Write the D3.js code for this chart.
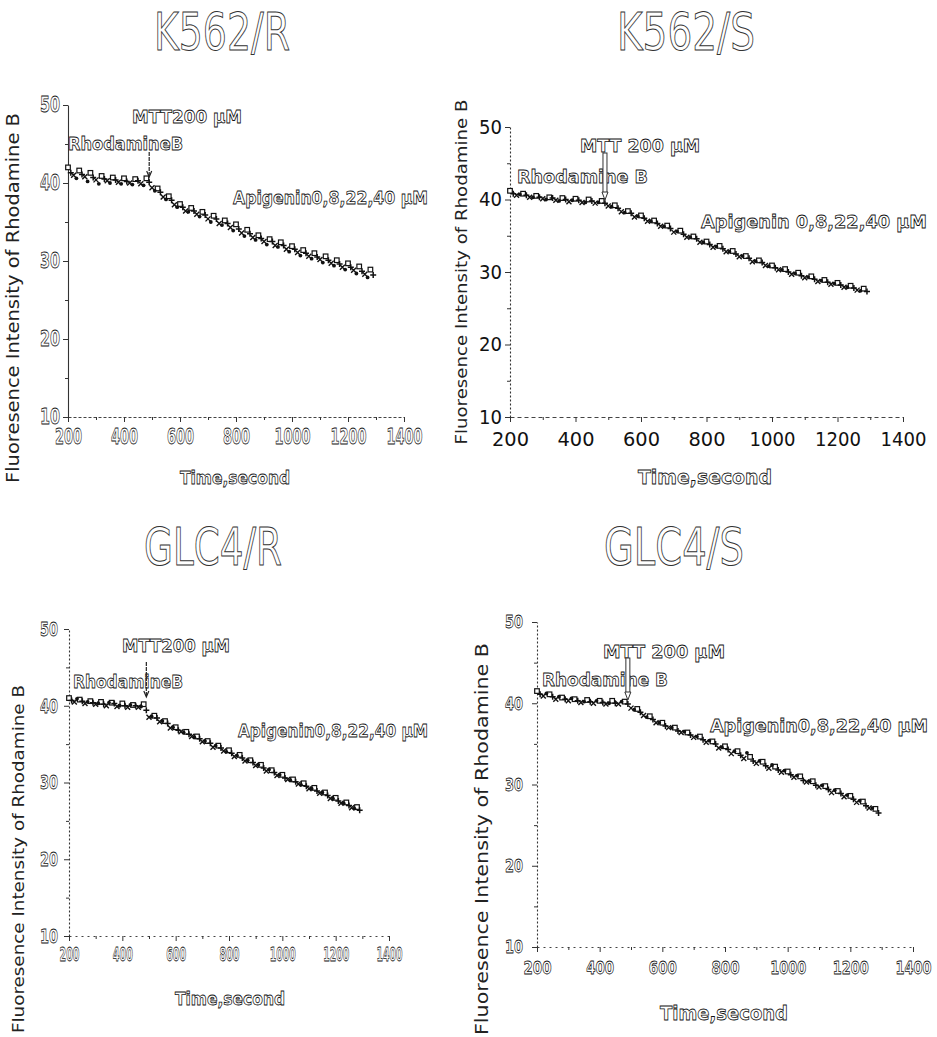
<!DOCTYPE html>
<html><head><meta charset="utf-8">
<script src="https://cdn.jsdelivr.net/npm/d3@7"></script>
<style>body{margin:0;background:#fff}svg{display:block}</style>
</head><body>
<svg id="c" width="937" height="1037"></svg>
<script>
// ---------- data ----------
const timesA = [200,240,280,320,360,400,440,480,520,560,600,640,680,720,760,800,840,880,920,960,1000,1040,1080,1120,1160,1200,1240,1280];
const timesB = [210,250,290,330,370,410,450,490,530,570,610,650,690,730,770,810,850,890,930,970,1010,1050,1090,1130,1170,1210,1250,1290];
const timesC = [220,260,300,340,380,420,460,500,540,580,620,660,700,740,780,820,860,900,940,980,1020,1060,1100,1140,1180,1220,1260];
const timesD = [230,270,310,350,390,430,470,510,550,590,630,670,710,750,790,830,870,910,950,990,1030,1070,1110,1150,1190,1230,1270];

const apigeninDoses = ["0 µM","8 µM","22 µM","40 µM"];
const xTicks = [200,400,600,800,1000,1200,1400];
const yTicks = [10,20,30,40,50];
const yMinorTicks = [15,25,35,45];
const xMinorTicks = [300,500,700,900,1100,1300];
const panelTitles = ["K562/R","K562/S","GLC4/R","GLC4/S"];
const mttTime = 490;

// K562/R
const k562R_0  = [42.0,41.6,41.3,40.9,40.7,40.6,40.5,40.6,39.3,38.3,37.3,36.8,36.3,35.8,35.2,34.7,34.0,33.3,32.8,32.4,31.9,31.4,31.0,30.6,30.1,29.7,29.3,28.9];
const k562R_8  = [41.3,41.1,40.7,40.5,40.4,40.2,40.3,40.1,38.8,37.8,36.9,36.4,35.9,35.4,34.8,34.1,33.5,32.9,32.5,32.0,31.5,31.0,30.5,30.1,29.6,29.2,28.7,28.2];
const k562R_22 = [41.0,40.8,40.4,40.3,40.1,40.0,39.9,39.4,38.2,37.2,36.4,36.0,35.4,34.8,34.3,33.6,33.0,32.5,32.0,31.5,31.1,30.6,30.2,29.7,29.2,28.8,28.3];
const k562R_40 = [40.6,40.2,39.9,40.0,39.9,39.8,39.7,39.0,37.9,36.9,36.3,35.7,35.0,34.6,33.9,33.2,32.7,32.1,31.8,31.2,30.7,30.3,29.8,29.4,28.9,28.4,27.9];
// K562/S
const k562S_0  = [41.2,40.8,40.5,40.3,40.2,40.1,40.0,39.8,39.2,38.4,37.8,37.1,36.4,35.7,34.9,34.2,33.6,32.9,32.2,31.6,30.9,30.4,29.9,29.4,28.9,28.5,28.1,27.7];
const k562S_8  = [40.8,40.6,40.3,40.2,40.0,39.9,39.8,39.5,38.8,38.1,37.4,36.7,36.0,35.2,34.6,33.8,33.2,32.5,31.9,31.3,30.6,30.0,29.5,29.0,28.6,28.2,27.8,27.3];
const k562S_22 = [40.6,40.3,40.1,39.9,39.7,39.6,39.5,39.1,38.3,37.6,37.0,36.3,35.5,34.8,34.1,33.4,32.8,32.1,31.4,30.9,30.3,29.7,29.2,28.7,28.3,27.9,27.5];
const k562S_40 = [40.7,40.3,40.0,39.8,39.9,39.6,39.6,39.0,38.2,37.7,37.0,36.3,35.6,34.8,34.1,33.5,32.8,32.2,31.5,30.8,30.3,29.8,29.3,28.8,28.4,27.9,27.4];
// GLC4/R
const glc4R_0  = [41.0,40.8,40.6,40.5,40.4,40.3,40.1,40.2,38.7,38.0,37.2,36.6,36.0,35.4,34.8,34.2,33.6,32.9,32.3,31.6,31.0,30.4,29.9,29.3,28.7,28.0,27.4,26.8];
const glc4R_8  = [40.7,40.6,40.4,40.2,40.3,40.0,40.0,39.4,38.4,37.7,36.8,36.3,35.7,35.1,34.5,33.8,33.2,32.6,31.9,31.3,30.6,30.1,29.5,28.9,28.3,27.6,27.0,26.4];
const glc4R_22 = [40.5,40.3,40.2,40.0,39.9,39.8,39.8,38.5,37.9,37.1,36.6,36.0,35.3,34.6,34.1,33.4,32.8,32.2,31.5,30.9,30.4,29.8,29.2,28.6,27.9,27.3,26.7];
const glc4R_40 = [40.9,40.5,40.3,40.4,40.0,40.1,39.9,38.6,38.0,37.2,36.5,35.9,35.4,34.8,34.0,33.5,32.9,32.3,31.7,31.0,30.3,29.7,29.2,28.7,27.9,27.3,26.6];
// GLC4/S
const glc4S_0  = [41.5,41.1,40.7,40.5,40.4,40.3,40.3,40.2,39.3,38.4,37.6,37.0,36.4,35.9,35.3,34.7,34.1,33.4,32.8,32.2,31.6,31.0,30.4,29.8,29.2,28.6,27.9,27.0];
const glc4S_8  = [41.1,40.8,40.5,40.3,40.2,40.1,40.0,39.9,38.9,38.0,37.2,36.6,36.1,35.5,35.0,34.3,33.6,32.9,32.3,31.8,31.2,30.5,29.9,29.4,28.9,28.2,27.4,26.5];
const glc4S_22 = [40.9,40.5,40.3,40.1,40.0,39.9,39.9,39.4,38.5,37.6,37.0,36.4,35.8,35.2,34.5,33.8,33.2,32.6,32.0,31.5,30.9,30.3,29.7,29.0,28.5,27.8,27.1];
const glc4S_40 = [41.2,40.8,40.6,40.2,40.3,40.0,40.2,39.2,38.3,37.6,37.0,36.5,35.9,35.4,34.6,34.1,33.9,32.9,32.4,31.7,31.1,30.4,29.9,29.3,28.7,28.0,27.1];

// ---------- layout ----------
const seriesTimes = [timesA,timesB,timesC,timesD];
const panels = [
 {title:panelTitles[0], series:[k562R_0,k562R_8,k562R_22,k562R_40],
  xr:[68,404], yr:[417,105],
  titleP:{x:222,y:50,w:136},
  tick:{fs:21,w2:20,w3:27,w4:36,yOff:8,xBase:26,hollow:true},
  xl:{x:235,y:484,w:110,fs:18},
  yl:{x:19,y:298,w:370,fs:17},
  ann:{fs:18,
   mtt:{x:132,y:123,w:110,s:"MTT200 µM"},
   rho:{x:68,y:150,w:115,s:"RhodamineB"},
   api:{x:428,y:204,w:195,s:"Apigenin0,8,22,40 µM"},
   arrow:[152,177], dbl:false},
  dashY:null, dashX:"3,2"},
 {title:panelTitles[1], series:[k562S_0,k562S_8,k562S_22,k562S_40],
  xr:[510,903], yr:[417,127],
  titleP:{x:686,y:50,w:138},
  tick:{fs:20,w2:23,w3:37,w4:46,yOff:8,xBase:29,hollow:false},
  xl:{x:705,y:484,w:134,fs:20},
  yl:{x:467,y:272,w:345,fs:16},
  ann:{fs:18,
   mtt:{x:580,y:152,w:120,s:"MTT  200 µM"},
   rho:{x:517,y:183,w:131,s:"Rhodamine B"},
   api:{x:927,y:228,w:226,s:"Apigenin 0,8,22,40 µM"},
   arrow:[153,200], dbl:true},
  dashY:"2,2", dashX:"4,3"},
 {title:panelTitles[2], series:[glc4R_0,glc4R_8,glc4R_22,glc4R_40],
  xr:[69,389], yr:[936,629],
  titleP:{x:213,y:565,w:138},
  tick:{fs:20,w2:18,w3:20,w4:26,yOff:11,xBase:25,hollow:true},
  xl:{x:230,y:1005,w:110,fs:18},
  yl:{x:24,y:859,w:348,fs:16},
  ann:{fs:18,
   mtt:{x:122,y:652,w:108,s:"MTT200 µM"},
   rho:{x:73,y:688,w:110,s:"RhodamineB"},
   api:{x:428,y:737,w:190,s:"Apigenin0,8,22,40 µM"},
   arrow:[662,697], dbl:false},
  dashY:"2,2", dashX:"2,4"},
 {title:panelTitles[3], series:[glc4S_0,glc4S_8,glc4S_22,glc4S_40],
  xr:[537,913], yr:[947,622],
  titleP:{x:674,y:565,w:140},
  tick:{fs:18,w2:18,w3:28,w4:36,yOff:14,xBase:28,hollow:true},
  xl:{x:724,y:1020,w:128,fs:20},
  yl:{x:488,y:839,w:392,fs:18},
  ann:{fs:18,
   mtt:{x:603,y:658,w:122,s:"MTT 200 µM"},
   rho:{x:542,y:686,w:126,s:"Rhodamine B"},
   api:{x:928,y:732,w:218,s:"Apigenin0,8,22,40 µM"},
   arrow:[658,700], dbl:true},
  dashY:"2,2", dashX:"2,4"}
];

const svg = d3.select("#c");
const INK = "#111";

function label(g, x, y, s, o){
  const t = g.append("text").attr("x",x).attr("y",y).text(s)
    .attr("font-family", o.ff || "DejaVu Sans")
    .attr("font-size", o.fs)
    .attr("font-weight", o.fw || "normal")
    .attr("text-anchor", o.anchor || "start");
  if (o.w) t.attr("textLength", o.w).attr("lengthAdjust","spacingAndGlyphs");
  if (o.hollow) t.attr("fill","#fff").attr("stroke", o.stroke || INK).attr("stroke-width", o.sw || 0.8);
  else t.attr("fill", o.fill || INK);
  if (o.rotate) t.attr("transform", `rotate(-90,${x},${y})`);
  return t;
}

const markers = [
  g => g.append("rect").attr("x",-2.3).attr("y",-2.3).attr("width",4.6).attr("height",4.6).attr("fill","#fff").attr("stroke",INK).attr("stroke-width",1.2),
  g => g.append("path").attr("d","M-3,0H3M0,-3V3").attr("stroke",INK).attr("stroke-width",1.5),
  g => g.append("path").attr("d","M-2.5,-2.5L2.5,2.5M-2.5,2.5L2.5,-2.5").attr("stroke",INK).attr("stroke-width",1.4),
  g => g.append("circle").attr("r",1.9).attr("fill",INK)
];

panels.forEach(p => {
  const g = svg.append("g");
  const x = d3.scaleLinear().domain([200,1400]).range(p.xr);
  const y = d3.scaleLinear().domain([10,50]).range(p.yr);

  // title
  label(g, p.titleP.x, p.titleP.y, p.title, {fs:52, anchor:"middle", w:p.titleP.w, hollow:true, stroke:"#333", sw:1});

  // y axis
  const ya = g.append("g").attr("transform",`translate(${p.xr[0]},0)`)
    .call(d3.axisLeft(y).tickValues(yTicks).tickFormat(d3.format("d")).tickSize(5).tickSizeOuter(0).tickPadding(p.tick.yOff-5));
  const yam = g.append("g").attr("transform",`translate(${p.xr[0]},0)`)
    .call(d3.axisLeft(y).tickValues(yMinorTicks).tickSize(3).tickFormat(""));
  yam.select(".domain").remove();
  // x axis
  const xa = g.append("g").attr("transform",`translate(0,${p.yr[0]})`)
    .call(d3.axisBottom(x).tickValues(xTicks).tickFormat(d3.format("d")).tickSize(5).tickSizeOuter(0).tickPadding(p.tick.xBase-19));
  const xam = g.append("g").attr("transform",`translate(0,${p.yr[0]})`)
    .call(d3.axisBottom(x).tickValues(xMinorTicks).tickSize(3).tickFormat(""));
  xam.select(".domain").remove();

  [ya,yam,xa,xam].forEach(a => {
    a.selectAll("line").attr("stroke","#333").attr("stroke-width",1);
  });
  ya.select(".domain").attr("stroke","#333").attr("stroke-width",1.1).attr("stroke-dasharray",p.dashY);
  xa.select(".domain").attr("stroke","#444").attr("stroke-width",1).attr("stroke-dasharray",p.dashX);

  const tickStyle = sel => {
    sel.attr("font-family","DejaVu Sans").attr("font-size",p.tick.fs)
      .attr("font-weight", p.tick.hollow ? "bold" : "normal")
      .attr("fill", p.tick.hollow ? "#fff" : INK)
      .attr("stroke", p.tick.hollow ? INK : "none")
      .attr("stroke-width", 0.8)
      .attr("lengthAdjust","spacingAndGlyphs")
      .attr("textLength", function(){ const n=this.textContent.length; return n<=2?p.tick.w2:(n===3?p.tick.w3:p.tick.w4); });
  };
  ya.selectAll(".tick text").call(tickStyle);
  xa.selectAll(".tick text").call(tickStyle);

  // axis titles
  label(g, p.xl.x, p.xl.y, "Time,second", {fs:p.xl.fs, fw:"bold", anchor:"middle", w:p.xl.w, hollow:true, sw:0.8});
  label(g, p.yl.x, p.yl.y, "Fluoresence Intensity of Rhodamine B",
        {fs:p.yl.fs, anchor:"middle", w:p.yl.w, rotate:true, fill:"#222"});

  // annotations
  const a = p.ann;
  [a.mtt, a.rho].forEach(t => label(g, t.x, t.y, t.s, {fs:a.fs, fw:"bold", w:t.w, hollow:true, sw:0.8}));
  label(g, a.api.x, a.api.y, a.api.s, {fs:a.fs, fw:"bold", w:a.api.w, anchor:"end", hollow:true, sw:0.8});

  // data
  p.series.forEach((vals, si) => {
    const ts = seriesTimes[si];
    const pts = vals.map((v,i) => [ts[i], v]).filter(d => d[0] !== undefined);
    g.append("g").selectAll("g").data(pts).join("g")
      .attr("transform", d => `translate(${x(d[0])},${y(d[1])})`)
      .each(function(){ markers[si](d3.select(this)); });
  });

  // MTT arrow
  const ax = x(mttTime);
  const [a0,a1] = a.arrow;
  if (a.dbl) {
    g.append("rect").attr("x",ax-2).attr("y",a0).attr("width",4).attr("height",a1-a0-7)
      .attr("fill","#fff").attr("stroke","#333").attr("stroke-width",1);
    g.append("path").attr("d",`M${ax-3},${a1-8}L${ax},${a1}L${ax+3},${a1-8}Z`)
      .attr("fill","#fff").attr("stroke","#333").attr("stroke-width",1);
  } else {
    g.append("line").attr("x1",ax).attr("x2",ax).attr("y1",a0).attr("y2",a1)
      .attr("stroke","#222").attr("stroke-width",1.2).attr("stroke-dasharray","4,1");
    g.append("path").attr("d",`M${ax-2.5},${a1-6}L${ax},${a1}L${ax+2.5},${a1-6}`)
      .attr("fill","none").attr("stroke","#222").attr("stroke-width",1.2);
  }
});
</script>
</body></html>
